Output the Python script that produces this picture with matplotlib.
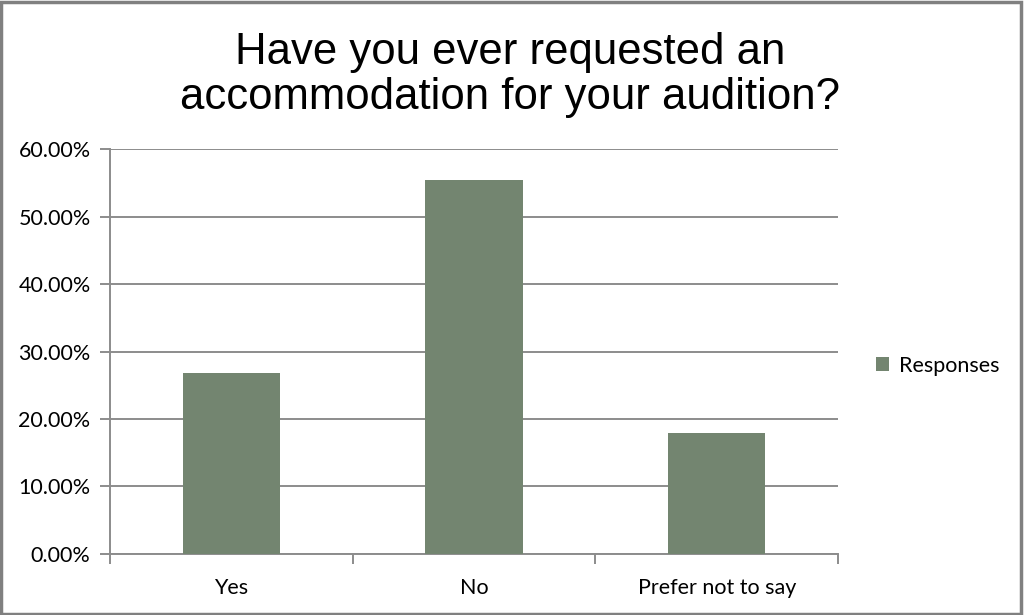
import numpy as np
import matplotlib
matplotlib.use("Agg")
import matplotlib.pyplot as plt
from matplotlib.patches import Rectangle
from matplotlib.ticker import FuncFormatter

categories = ["Yes", "No", "Prefer not to say"]
responses = [26.8, 55.4, 17.9]
y_ticks = [0, 10, 20, 30, 40, 50, 60]

BAR_COLOR = "#738570"
GRID_COLOR = "#8c8c8c"

plt.rcParams["font.family"] = ["Lato", "DejaVu Sans"]

fig = plt.figure(figsize=(10.24, 6.15), dpi=100)
ax = fig.add_axes([0.1074, 0.0992, 0.711, 0.6585])

x = np.arange(len(categories))
ax.bar(x, responses, width=0.4, color=BAR_COLOR, zorder=3, label="Responses")

ax.set_xlim(-0.5, len(categories) - 0.5)
ax.set_ylim(0, 60)
ax.set_yticks(y_ticks)
ax.yaxis.set_major_formatter(FuncFormatter(lambda v, p: f"{v:.2f}%"))
ax.yaxis.grid(True, color=GRID_COLOR, linewidth=1.4, zorder=0)

# category labels centered, tick marks at category boundaries
ax.set_xticks(np.arange(-0.5, len(categories), 1.0))
ax.set_xticklabels([])
ax.set_xticks(x, minor=True)
ax.set_xticklabels(categories, minor=True)
ax.tick_params(axis="x", which="minor", length=0, pad=17, labelsize=15.5)
ax.tick_params(axis="x", which="major", length=7, width=1.4, color=GRID_COLOR, direction="out")
ax.tick_params(axis="y", length=7, width=1.4, color=GRID_COLOR, labelsize=15.5, pad=7)

for side in ["top", "right"]:
    ax.spines[side].set_visible(False)
for side in ["left", "bottom"]:
    ax.spines[side].set_color(GRID_COLOR)
    ax.spines[side].set_linewidth(1.4)

fig.text(0.498, 0.878, "Have you ever requested an\naccommodation for your audition?",
         ha="center", va="center", fontsize=31.5, family=["Liberation Sans", "DejaVu Sans"],
         linespacing=1.12)

leg = ax.legend(loc="center left", bbox_to_anchor=(1.025, 0.465), frameon=False,
                fontsize=15.5, handlelength=0.6, handleheight=0.6, handletextpad=0.5)

fig.patches.append(Rectangle((0.001, 0.002), 0.996, 0.995, transform=fig.transFigure,
                             fill=False, edgecolor="#808080", linewidth=2.5))

fig.savefig("out.png", dpi=100)
